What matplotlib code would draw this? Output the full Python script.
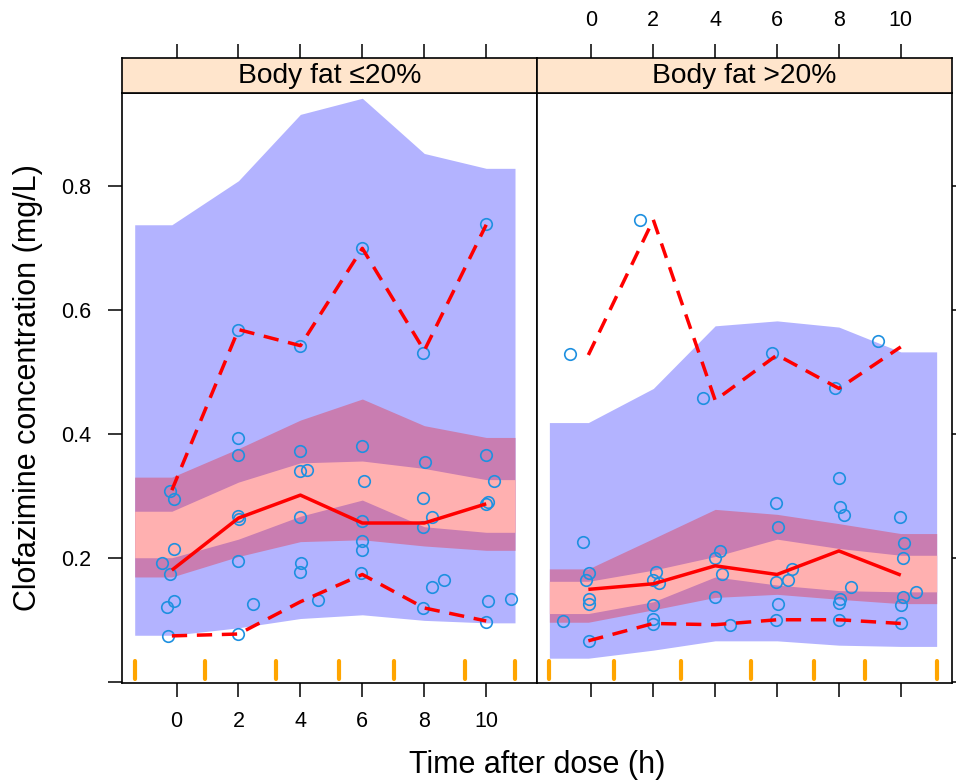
import matplotlib
matplotlib.use("Agg")
import matplotlib.pyplot as plt
import matplotlib.transforms as mtransforms
import numpy as np

plt.rcParams['font.family'] = ['Liberation Sans', 'DejaVu Sans']

# ---------------- data ----------------
panel_titles = ["Body fat \u226420%", "Body fat >20%"]
xticks = [0, 2, 4, 6, 8, 10]
yticks = [0.0, 0.2, 0.4, 0.6, 0.8]
ytick_labels = ["", "0.2", "0.4", "0.6", "0.8"]

# left panel (Body fat <=20%)
left_bins = [-0.15, 2, 4, 6, 8, 10]
left_rug = [-1.35, 0.93, 3.22, 5.24, 7.01, 9.30, 10.93]
left_pi_hi = [0.738, 0.809, 0.916, 0.942, 0.853, 0.829]
left_pi_lo = [0.076, 0.088, 0.103, 0.109, 0.100, 0.096]
left_ci_hi = [0.331, 0.377, 0.423, 0.457, 0.414, 0.395]
left_ci_lo = [0.170, 0.203, 0.227, 0.230, 0.220, 0.213]
left_med_hi = [0.276, 0.323, 0.354, 0.357, 0.345, 0.327]
left_med_lo = [0.201, 0.231, 0.268, 0.294, 0.251, 0.242]
left_obs_med = [0.181, 0.265, 0.302, 0.257, 0.257, 0.288]
left_obs_hi = [0.310, 0.569, 0.543, 0.700, 0.535, 0.738]
left_obs_lo = [0.075, 0.078, 0.130, 0.174, 0.120, 0.099]
left_pts_t = [-0.21, -0.09, -0.09, -0.46, -0.20, -0.08, -0.30, -0.27,
              1.97, 1.97, 1.97, 2.02, 1.97, 2.48, 1.97, 1.97,
              3.99, 3.99, 4.20, 3.99, 4.02, 3.99, 4.56, 3.99,
              5.98, 6.06, 5.98, 5.98, 5.98, 5.95, 5.98,
              8.03, 7.97, 8.24, 7.97, 8.64, 8.24, 7.97, 7.97,
              9.99, 10.24, 10.06, 9.99, 10.06, 10.81, 9.99, 9.99]
left_pts_v = [0.309, 0.296, 0.215, 0.192, 0.174, 0.131, 0.121, 0.075,
              0.394, 0.366, 0.269, 0.263, 0.195, 0.127, 0.078, 0.569,
              0.373, 0.341, 0.343, 0.266, 0.192, 0.178, 0.133, 0.543,
              0.382, 0.325, 0.260, 0.228, 0.214, 0.177, 0.701,
              0.356, 0.297, 0.266, 0.251, 0.165, 0.154, 0.120, 0.532,
              0.367, 0.324, 0.291, 0.288, 0.132, 0.135, 0.098, 0.739]

# right panel (Body fat >20%)
right_bins = [-0.10, 2, 4, 6, 8, 10]
right_rug = [-1.36, 0.74, 2.88, 5.17, 7.20, 8.84, 11.16]
right_pi_hi = [0.419, 0.474, 0.575, 0.583, 0.573, 0.533]
right_pi_lo = [0.039, 0.052, 0.067, 0.067, 0.060, 0.058]
right_ci_hi = [0.183, 0.232, 0.279, 0.271, 0.256, 0.240]
right_ci_lo = [0.097, 0.117, 0.137, 0.142, 0.134, 0.127]
right_med_hi = [0.163, 0.181, 0.203, 0.231, 0.216, 0.205]
right_med_lo = [0.111, 0.130, 0.170, 0.157, 0.148, 0.146]
right_obs_med = [0.150, 0.159, 0.188, 0.174, 0.212, 0.173]
right_obs_hi = [0.528, 0.746, 0.455, 0.528, 0.474, 0.541]
right_obs_lo = [0.067, 0.095, 0.093, 0.101, 0.101, 0.095]
right_pts_t = [-0.68, 1.56, 3.60, 5.83, 7.88, 9.26,
               -0.27, -0.09, -0.19, -0.09, -0.09, -0.93, -0.09,
               2.10, 1.99, 2.17, 1.98, 1.98, 1.98,
               4.14, 3.98, 4.23, 3.98, 4.49,
               5.98, 6.02, 6.48, 6.35, 5.98, 6.02, 5.98,
               7.99, 8.04, 8.17, 8.39, 8.04, 7.99, 7.99,
               9.99, 10.09, 10.08, 10.50, 10.08, 10.00, 10.00]
right_pts_v = [0.529, 0.746, 0.459, 0.531, 0.475, 0.551,
               0.226, 0.177, 0.165, 0.134, 0.126, 0.099, 0.067,
               0.178, 0.165, 0.160, 0.125, 0.102, 0.094,
               0.212, 0.200, 0.174, 0.137, 0.092,
               0.289, 0.251, 0.183, 0.165, 0.162, 0.127, 0.100,
               0.330, 0.283, 0.270, 0.154, 0.134, 0.128, 0.101,
               0.266, 0.225, 0.201, 0.146, 0.138, 0.125, 0.095]

panels = [
    dict(bins=left_bins, rug=left_rug, pi_hi=left_pi_hi, pi_lo=left_pi_lo,
         ci_hi=left_ci_hi, ci_lo=left_ci_lo, med_hi=left_med_hi, med_lo=left_med_lo,
         obs_med=left_obs_med, obs_hi=left_obs_hi, obs_lo=left_obs_lo,
         pts_t=left_pts_t, pts_v=left_pts_v),
    dict(bins=right_bins, rug=right_rug, pi_hi=right_pi_hi, pi_lo=right_pi_lo,
         ci_hi=right_ci_hi, ci_lo=right_ci_lo, med_hi=right_med_hi, med_lo=right_med_lo,
         obs_med=right_obs_med, obs_hi=right_obs_hi, obs_lo=right_obs_lo,
         pts_t=right_pts_t, pts_v=right_pts_v),
]

# ---------------- style ----------------
W, H = 956, 781
fig = plt.figure(figsize=(W / 100, H / 100), dpi=100)

BLUE_FILL = "#B3B3FF"
PURPLE_FILL = "#C97DB1"
PINK_FILL = "#FFB0B0"
STRIP_BG = "#FFE5CC"
PT_COL = "#1E90E0"
LINE_W = 1.2
TICK_LEN = 10
TICK_FS = 15.5

panel_px = [(122, 537), (537, 951.5)]
y_top, y_bot = 93, 683
strip_top = 57.5

xlim = (-1.76, 11.64)
ylim = (-0.001, 0.9505)


def ext(xs, rug, vals):
    x = [rug[0]] + list(xs) + [rug[-1]]
    v = [vals[0]] + list(vals) + [vals[-1]]
    return np.array(x), np.array(v)


for i, (p, (x0, x1)) in enumerate(zip(panels, panel_px)):
    ax = fig.add_axes([x0 / W, (H - y_bot) / H, (x1 - x0) / W, (y_bot - y_top) / H])
    sax = fig.add_axes([x0 / W, (H - y_top) / H, (x1 - x0) / W, (y_top - strip_top) / H],
                       sharex=ax)

    # bands
    xs, hi = ext(p["bins"], p["rug"], p["pi_hi"])
    _, lo = ext(p["bins"], p["rug"], p["pi_lo"])
    ax.fill_between(xs, lo, hi, color=BLUE_FILL, lw=0, zorder=1)
    _, hi = ext(p["bins"], p["rug"], p["ci_hi"])
    _, lo = ext(p["bins"], p["rug"], p["ci_lo"])
    ax.fill_between(xs, lo, hi, color=PURPLE_FILL, lw=0, zorder=2)
    _, hi = ext(p["bins"], p["rug"], p["med_hi"])
    _, lo = ext(p["bins"], p["rug"], p["med_lo"])
    ax.fill_between(xs, lo, hi, color=PINK_FILL, lw=0, zorder=3)

    # observations
    ax.plot(p["pts_t"], p["pts_v"], linestyle="none", marker="o", ms=8.3,
            mfc="none", mec=PT_COL, mew=1.2, zorder=4)

    # observed percentiles
    ax.plot(p["bins"], p["obs_med"], color="red", lw=2.5, zorder=5,
            solid_capstyle="butt")
    for key in ("obs_hi", "obs_lo"):
        ax.plot(p["bins"], p[key], color="red", lw=2.5, zorder=5,
                dashes=(4.4, 2.8), dash_capstyle="butt")

    # bin boundaries rug
    trans = mtransforms.blended_transform_factory(ax.transData, ax.transAxes)
    for r in p["rug"]:
        ax.plot([r, r], [0.006, 0.038], transform=trans, color="#FFA500",
                lw=3.0, solid_capstyle="round", zorder=6, clip_on=False)

    ax.set_xlim(*xlim)
    ax.set_ylim(*ylim)
    for s in ax.spines.values():
        s.set_linewidth(LINE_W)

    ax.set_xticks(xticks)
    ax.set_yticks(yticks)
    ax.tick_params(direction="out", length=TICK_LEN, width=1.1, labelsize=TICK_FS,
                   pad=10)
    if i == 0:
        ax.tick_params(axis="x", bottom=True, labelbottom=True, top=False, labeltop=False)
        ax.tick_params(axis="y", left=True, labelleft=True, right=False, labelright=False,
                       pad=12)
        ax.set_yticklabels(ytick_labels)
    else:
        ax.tick_params(axis="x", bottom=True, labelbottom=False, top=False, labeltop=False)
        ax.tick_params(axis="y", left=False, labelleft=False, right=True, labelright=False)

    # strip
    sax.set_facecolor(STRIP_BG)
    sax.set_ylim(0, 1)
    sax.set_yticks([])
    for s in sax.spines.values():
        s.set_linewidth(LINE_W)
    sax.tick_params(axis="x", direction="out", length=TICK_LEN, width=1.1,
                    labelsize=TICK_FS, bottom=False, labelbottom=False, top=True,
                    labeltop=(i == 1), pad=9)
    sax.text(0.5, 0.47, panel_titles[i], transform=sax.transAxes, ha="center",
             va="center", fontsize=20.3)

fig.text(537.5 / W, 1 - 765 / H, "Time after dose (h)", ha="center", va="center",
         fontsize=22)
fig.text(28 / W, 1 - 388 / H, "Clofazimine concentration (mg/L)", ha="center",
         va="center", rotation=90, fontsize=22)

fig.savefig("out.png", dpi=100)
